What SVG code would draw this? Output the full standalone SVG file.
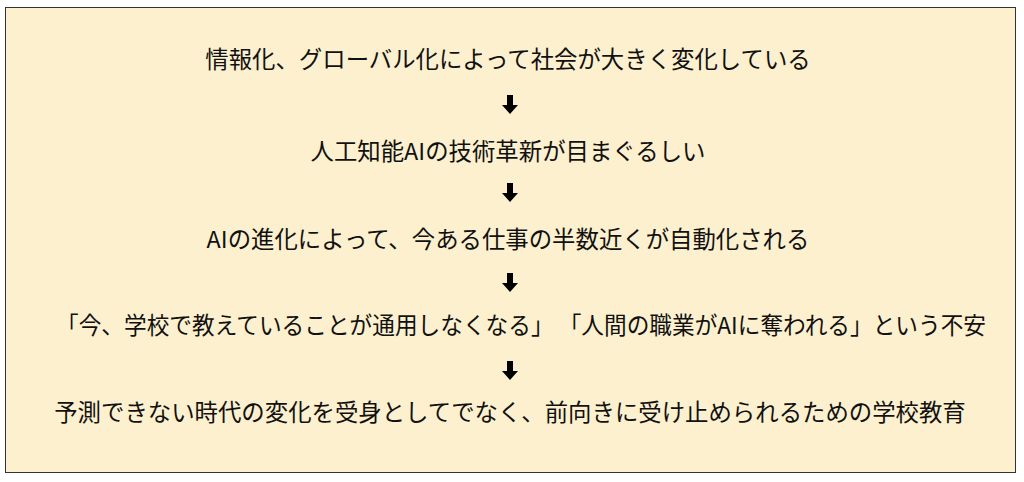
<svg xmlns="http://www.w3.org/2000/svg" width="1024" height="482" viewBox="0 0 1024 482">
<style>
.t{font-family:"Noto Sans CJK JP","Noto Sans",sans-serif;font-size:23.4px;fill:#111;text-anchor:middle}
.a{fill:#000}
</style>
<defs><path id="arr" d="M-3,-9 H3 V1 H8 L0,10 L-8,1 H-3 Z"/></defs>
<rect x="5.5" y="7.5" width="1010" height="465" fill="#FCF0CF" stroke="#333" stroke-width="1"/>
<g id="n1"><text class="t" x="508" y="68">情報化、グローバル化によって社会が大きく変化している</text></g>
<g id="n2"><text class="t" x="508" y="160">人工知能AIの技術革新が目まぐるしい</text></g>
<g id="n3"><text class="t" x="508" y="248">AIの進化によって、今ある仕事の半数近くが自動化される</text></g>
<g id="n4"><text class="t" x="521" y="334" textLength="930" lengthAdjust="spacingAndGlyphs">「今、学校で教えていることが通用しなくなる」&#160;「人間の職業がAIに奪われる」という不安</text></g>
<g id="n5"><text class="t" x="510" y="421">予測できない時代の変化を受身としてでなく、前向きに受け止められるための学校教育</text></g>
<g id="connectors" class="a">
<use href="#arr" x="510" y="104"/>
<use href="#arr" x="510" y="192"/>
<use href="#arr" x="510" y="282"/>
<use href="#arr" x="510" y="370"/>
</g>
</svg>
